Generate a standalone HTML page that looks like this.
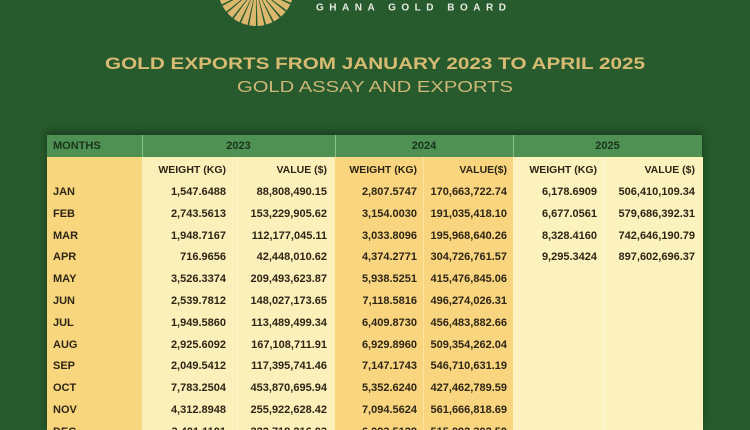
<!DOCTYPE html>
<html style="margin:0;padding:0;width:750px;height:430px;overflow:hidden;"><head><meta charset="utf-8">
<style>
html,body{margin:0;padding:0;}
body{width:750px;height:430px;overflow:hidden;background:#275a2d;position:relative;font-family:"Liberation Sans",sans-serif;}
.abs{position:absolute;}
.col{position:absolute;top:157px;height:273px;}
.hdr{position:absolute;top:135px;height:22px;background:#4e9152;}
.t{position:absolute;font-weight:bold;font-size:11px;color:#2e2516;line-height:22px;height:22px;white-space:nowrap;}
.r{text-align:right;}
.h{position:absolute;font-weight:bold;font-size:11px;color:#1a331b;line-height:22px;top:135px;text-align:center;}
</style></head><body>

<svg class="abs" style="left:0;top:0" width="750" height="130" viewBox="0 0 750 130">
  <circle cx="256" cy="-12" r="23" fill="none" stroke="#dcb86f" stroke-width="30" stroke-dasharray="4.1 1.06"/>
  <text x="316" y="10.5" font-family="Liberation Sans, sans-serif" font-weight="bold" font-size="10" fill="#e4ebe2" textLength="190" lengthAdjust="spacing">GHANA GOLD BOARD</text>
  <text x="105" y="69" font-family="Liberation Sans, sans-serif" font-weight="bold" font-size="17" fill="#d8bb72" textLength="540" lengthAdjust="spacingAndGlyphs">GOLD EXPORTS FROM JANUARY 2023 TO APRIL 2025</text>
  <text x="237" y="92" font-family="Liberation Sans, sans-serif" font-size="16" fill="#cdb877" textLength="276" lengthAdjust="spacingAndGlyphs">GOLD ASSAY AND EXPORTS</text>
</svg>

<div class="abs" style="left:47px;top:135px;width:655px;height:295px;box-shadow:0 -3px 8px rgba(0,0,0,0.35);"></div>

<!-- body columns -->
<div class="col" style="left:47px;width:95px;background:#f8d67e;"></div>
<div class="col" style="left:142px;width:95px;background:#fbf0b9;"></div>
<div class="col" style="left:237px;width:98px;background:#fbf0b9;border-left:1px solid #fdf5cf;"></div>
<div class="col" style="left:335px;width:88px;background:#f8d57e;"></div>
<div class="col" style="left:423px;width:90px;background:#f8d57e;border-left:1px solid #fbe39c;"></div>
<div class="col" style="left:513px;width:90px;background:#fcf2bd;"></div>
<div class="col" style="left:603px;width:99px;background:#fcf2bd;border-left:1px solid #fdf6d2;"></div>

<!-- header -->
<div class="hdr" style="left:47px;width:95px;"></div>
<div class="hdr" style="left:143px;width:192px;"></div>
<div class="hdr" style="left:336px;width:177px;"></div>
<div class="hdr" style="left:514px;width:188px;"></div>
<div class="abs" style="left:142px;top:135px;width:1px;height:22px;background:#8dc18c;"></div>
<div class="abs" style="left:335px;top:135px;width:1px;height:22px;background:#8dc18c;"></div>
<div class="abs" style="left:513px;top:135px;width:1px;height:22px;background:#8dc18c;"></div>

<div class="h" style="left:53px;text-align:left;">MONTHS</div>
<div class="h" style="left:142px;width:193px;">2023</div>
<div class="h" style="left:335px;width:178px;">2024</div>
<div class="h" style="left:513px;width:189px;">2025</div>

<!-- sub header -->
<div class="t r" style="top:159px;left:126px;width:100px;font-size:10.5px;">WEIGHT (KG)</div>
<div class="t r" style="top:159px;left:227px;width:100px;font-size:10.5px;">VALUE ($)</div>
<div class="t r" style="top:159px;left:317px;width:100px;font-size:10.5px;">WEIGHT (KG)</div>
<div class="t r" style="top:159px;left:407px;width:100px;font-size:10.5px;">VALUE($)</div>
<div class="t r" style="top:159px;left:497px;width:100px;font-size:10.5px;">WEIGHT (KG)</div>
<div class="t r" style="top:159px;left:595px;width:100px;font-size:10.5px;">VALUE ($)</div>

<!-- rows -->
<div class="t" style="top:181px;left:53px;">JAN</div>
<div class="t r" style="top:181px;left:126px;width:100px;">1,547.6488</div>
<div class="t r" style="top:181px;left:227px;width:100px;">88,808,490.15</div>
<div class="t r" style="top:181px;left:317px;width:100px;">2,807.5747</div>
<div class="t r" style="top:181px;left:407px;width:100px;">170,663,722.74</div>
<div class="t r" style="top:181px;left:497px;width:100px;">6,178.6909</div>
<div class="t r" style="top:181px;left:595px;width:100px;">506,410,109.34</div>

<div class="t" style="top:202.8px;left:53px;">FEB</div>
<div class="t r" style="top:202.8px;left:126px;width:100px;">2,743.5613</div>
<div class="t r" style="top:202.8px;left:227px;width:100px;">153,229,905.62</div>
<div class="t r" style="top:202.8px;left:317px;width:100px;">3,154.0030</div>
<div class="t r" style="top:202.8px;left:407px;width:100px;">191,035,418.10</div>
<div class="t r" style="top:202.8px;left:497px;width:100px;">6,677.0561</div>
<div class="t r" style="top:202.8px;left:595px;width:100px;">579,686,392.31</div>

<div class="t" style="top:224.6px;left:53px;">MAR</div>
<div class="t r" style="top:224.6px;left:126px;width:100px;">1,948.7167</div>
<div class="t r" style="top:224.6px;left:227px;width:100px;">112,177,045.11</div>
<div class="t r" style="top:224.6px;left:317px;width:100px;">3,033.8096</div>
<div class="t r" style="top:224.6px;left:407px;width:100px;">195,968,640.26</div>
<div class="t r" style="top:224.6px;left:497px;width:100px;">8,328.4160</div>
<div class="t r" style="top:224.6px;left:595px;width:100px;">742,646,190.79</div>

<div class="t" style="top:246.4px;left:53px;">APR</div>
<div class="t r" style="top:246.4px;left:126px;width:100px;">716.9656</div>
<div class="t r" style="top:246.4px;left:227px;width:100px;">42,448,010.62</div>
<div class="t r" style="top:246.4px;left:317px;width:100px;">4,374.2771</div>
<div class="t r" style="top:246.4px;left:407px;width:100px;">304,726,761.57</div>
<div class="t r" style="top:246.4px;left:497px;width:100px;">9,295.3424</div>
<div class="t r" style="top:246.4px;left:595px;width:100px;">897,602,696.37</div>

<div class="t" style="top:268.2px;left:53px;">MAY</div>
<div class="t r" style="top:268.2px;left:126px;width:100px;">3,526.3374</div>
<div class="t r" style="top:268.2px;left:227px;width:100px;">209,493,623.87</div>
<div class="t r" style="top:268.2px;left:317px;width:100px;">5,938.5251</div>
<div class="t r" style="top:268.2px;left:407px;width:100px;">415,476,845.06</div>

<div class="t" style="top:290px;left:53px;">JUN</div>
<div class="t r" style="top:290px;left:126px;width:100px;">2,539.7812</div>
<div class="t r" style="top:290px;left:227px;width:100px;">148,027,173.65</div>
<div class="t r" style="top:290px;left:317px;width:100px;">7,118.5816</div>
<div class="t r" style="top:290px;left:407px;width:100px;">496,274,026.31</div>

<div class="t" style="top:311.8px;left:53px;">JUL</div>
<div class="t r" style="top:311.8px;left:126px;width:100px;">1,949.5860</div>
<div class="t r" style="top:311.8px;left:227px;width:100px;">113,489,499.34</div>
<div class="t r" style="top:311.8px;left:317px;width:100px;">6,409.8730</div>
<div class="t r" style="top:311.8px;left:407px;width:100px;">456,483,882.66</div>

<div class="t" style="top:333.6px;left:53px;">AUG</div>
<div class="t r" style="top:333.6px;left:126px;width:100px;">2,925.6092</div>
<div class="t r" style="top:333.6px;left:227px;width:100px;">167,108,711.91</div>
<div class="t r" style="top:333.6px;left:317px;width:100px;">6,929.8960</div>
<div class="t r" style="top:333.6px;left:407px;width:100px;">509,354,262.04</div>

<div class="t" style="top:355.4px;left:53px;">SEP</div>
<div class="t r" style="top:355.4px;left:126px;width:100px;">2,049.5412</div>
<div class="t r" style="top:355.4px;left:227px;width:100px;">117,395,741.46</div>
<div class="t r" style="top:355.4px;left:317px;width:100px;">7,147.1743</div>
<div class="t r" style="top:355.4px;left:407px;width:100px;">546,710,631.19</div>

<div class="t" style="top:377.2px;left:53px;">OCT</div>
<div class="t r" style="top:377.2px;left:126px;width:100px;">7,783.2504</div>
<div class="t r" style="top:377.2px;left:227px;width:100px;">453,870,695.94</div>
<div class="t r" style="top:377.2px;left:317px;width:100px;">5,352.6240</div>
<div class="t r" style="top:377.2px;left:407px;width:100px;">427,462,789.59</div>

<div class="t" style="top:399px;left:53px;">NOV</div>
<div class="t r" style="top:399px;left:126px;width:100px;">4,312.8948</div>
<div class="t r" style="top:399px;left:227px;width:100px;">255,922,628.42</div>
<div class="t r" style="top:399px;left:317px;width:100px;">7,094.5624</div>
<div class="t r" style="top:399px;left:407px;width:100px;">561,666,818.69</div>

<div class="t" style="top:420.8px;left:53px;height:9.2px;overflow:hidden;">DEC</div>
<div class="t r" style="top:420.8px;left:126px;width:100px;height:9.2px;overflow:hidden;">3,401.1101</div>
<div class="t r" style="top:420.8px;left:227px;width:100px;height:9.2px;overflow:hidden;">222,718,216.03</div>
<div class="t r" style="top:420.8px;left:317px;width:100px;height:9.2px;overflow:hidden;">6,093.5128</div>
<div class="t r" style="top:420.8px;left:407px;width:100px;height:9.2px;overflow:hidden;">515,092,302.50</div>

</body></html>
